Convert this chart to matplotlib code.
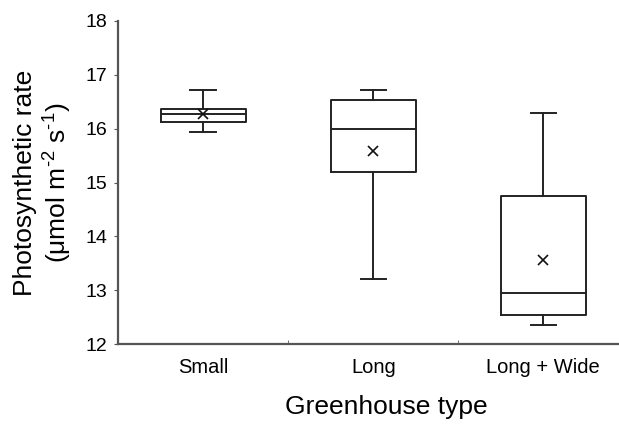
import matplotlib
matplotlib.use('Agg')
import matplotlib.pyplot as plt

plt.rcParams['font.family'] = ['Liberation Sans', 'DejaVu Sans']
plt.rcParams['mathtext.fontset'] = 'custom'
plt.rcParams['mathtext.rm'] = 'Liberation Sans'
plt.rcParams['mathtext.default'] = 'regular'

# values
groups = ['Small', 'Long', 'Long + Wide']
medians = [16.27, 16.00, 12.96]
q1 = [16.12, 15.20, 12.54]
q3 = [16.37, 16.54, 14.76]
whislo = [15.93, 13.22, 12.35]
whishi = [16.72, 16.72, 16.30]
means = [16.27, 15.59, 13.56]

stats = []
for i, g in enumerate(groups):
    stats.append({'label': g, 'med': medians[i], 'q1': q1[i], 'q3': q3[i],
                  'whislo': whislo[i], 'whishi': whishi[i],
                  'mean': means[i], 'fliers': []})

fig = plt.figure(figsize=(6.19, 4.25), dpi=100)
ax = fig.add_axes([0.191, 0.19, 0.824, 0.7607])

lw = 1.4
ax.bxp(stats, positions=[1, 2, 3], widths=0.5, capwidths=0.15,
       showmeans=True, showfliers=False,
       boxprops=dict(color='#222222', linewidth=lw),
       medianprops=dict(color='#222222', linewidth=lw),
       whiskerprops=dict(color='#222222', linewidth=lw),
       capprops=dict(color='#222222', linewidth=lw),
       meanprops=dict(marker='x', markeredgecolor='#111111', markersize=7,
                      markeredgewidth=1.2))

ax.set_xlim(0.5, 3.5)
ax.set_ylim(12, 18)
ax.set_yticks([12, 13, 14, 15, 16, 17, 18])
ax.set_xticks([1, 2, 3])
ax.set_xticklabels(groups)
ax.set_xticks([1.5, 2.5], minor=True)
ax.tick_params(axis='x', which='major', length=0, pad=10, labelsize=14.5)
ax.tick_params(axis='x', which='minor', direction='in', length=3, color='#555555')
ax.tick_params(axis='y', direction='out', length=3, pad=5, labelsize=14,
               color='#555555')

for s in ['top', 'right']:
    ax.spines[s].set_visible(False)
for s in ['left', 'bottom']:
    ax.spines[s].set_color('#555555')
    ax.spines[s].set_linewidth(1.6)

ax.set_ylabel('Photosynthetic rate\n(μmol m$^{\\text{-}2}$ s$^{\\text{-}1}$)', fontsize=19)
ax.yaxis.set_label_coords(-0.087, 0.5)
ax.set_xlabel('Greenhouse type', fontsize=19)
ax.xaxis.set_label_coords(0.525, -0.158)

fig.savefig('out.png', dpi=100)
